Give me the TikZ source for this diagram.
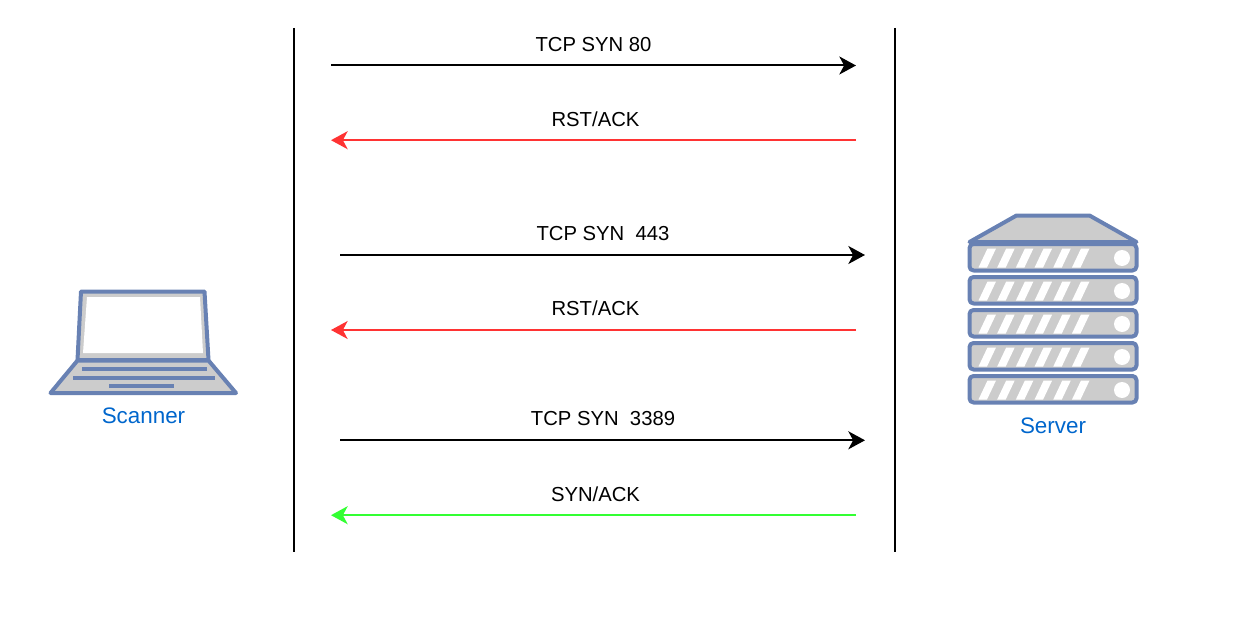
\documentclass[tikz,border=0pt]{standalone}
\usepackage{fontspec}
\setmainfont{Liberation Sans}
\usetikzlibrary{arrows.meta}
\definecolor{iconblue}{HTML}{6881B3}
\definecolor{icongrey}{HTML}{CCCCCC}
\definecolor{labelblue}{HTML}{0066CC}
\definecolor{rstred}{HTML}{FF3333}
\definecolor{ackgreen}{HTML}{33FF33}
\tikzset{
  msg/.style={line width=1.5pt,-{Stealth[length=12.5pt,width=13.5pt,inset=3.6pt]}},
  thinmsg/.style={msg,line width=1pt},
  lifeline/.style={line width=1.5pt,black},
  msglabel/.style={font=\fontsize{15.2}{18}\selectfont,text=black,inner sep=0pt},
  iconlabel/.style={font=\fontsize{16.8}{20}\selectfont,text=labelblue,inner sep=0pt},
  iconpart/.style={draw=iconblue,fill=icongrey,line width=3pt,line join=round},
  iconline/.style={draw=iconblue,line width=2.8pt},
  stripe/.style={fill=white,draw=none}
}
\newcommand{\serverunit}[1]{%
  \begin{scope}[yshift=-#1*0.75pt]
    \draw[iconpart,rounded corners=3pt] (969.5,244) rectangle (1136.5,270.5);
    \foreach \i in {0,...,5}{
      \fill[stripe,xshift=\i*18.7*0.75pt] (978.5,267.5) -- (987.5,248.5) -- (996,248.5) -- (987,267.5) -- cycle;
    }
    \fill[white] (1122,258) circle (8);
  \end{scope}}
\begin{document}
\begin{tikzpicture}[x=0.75pt,y=-0.75pt]
\useasboundingbox (0,0) rectangle (1239,617);
% lifelines
\coordinate (lta) at (293.8,28); \coordinate (lba) at (293.8,552);
\coordinate (ltb) at (895.3,28);   \coordinate (lbb) at (895.3,552);
\draw[lifeline] (lta) -- (lba);
\draw[lifeline] (ltb) -- (lbb);
% message ends
\coordinate (a1) at (331,65.5);  \coordinate (b1) at (856,65.5);
\coordinate (b2) at (856,140.2); \coordinate (a2) at (331,140.2);
\coordinate (a3) at (340,255);   \coordinate (b3) at (865,255);
\coordinate (b4) at (856,330);   \coordinate (a4) at (331,330);
\coordinate (a5) at (340,440.3);   \coordinate (b5) at (865,440.3);
\coordinate (b6) at (856,515.2); \coordinate (a6) at (331,515.2);
\draw[msg] (a1) -- (b1);
\draw[msg,rstred] (b2) -- (a2);
\draw[msg] (a3) -- (b3);
\draw[thinmsg,rstred] (b4) -- (a4);
\draw[msg] (a5) -- (b5);
\draw[msg,ackgreen] (b6) -- (a6);
% labels
\node[msglabel] (t1) at (593.5,44.6) {TCP SYN 80};
\node[msglabel] (t2) at (595.5,119.2) {RST/ACK};
\node[msglabel] (t3) at (603,233.6) {TCP SYN\ \ 443};
\node[msglabel] (t4) at (595.5,308.2) {RST/ACK};
\node[msglabel] (t5) at (603,419) {TCP SYN\ \ 3389};
\node[msglabel] (t6) at (595.5,494.2) {SYN/ACK};
% laptop
\draw[iconpart] (81,291.5) -- (204.5,291.5) -- (208.5,360) -- (77.5,360) -- cycle;
\fill[white] (87,297) -- (200,297) -- (203,353) -- (83,353) -- cycle;
\draw[iconpart] (77.5,360.5) -- (208.5,360.5) -- (236,393) -- (50.5,393) -- cycle;
\draw[iconline] (82,369) -- (207,369);
\draw[iconline] (73,378) -- (215,378);
\draw[iconline] (109,386) -- (174,386);
\node[iconlabel] (scanner) at (143.5,416) {Scanner};
% server
\draw[iconpart] (969.5,242) -- (1016.5,215.5) -- (1089.5,215.5) -- (1136.5,242) -- cycle;
\serverunit{0}
\serverunit{33}
\serverunit{66}
\serverunit{99}
\serverunit{132}
\node[iconlabel] (server) at (1053,426) {Server};
\end{tikzpicture}
\end{document}
